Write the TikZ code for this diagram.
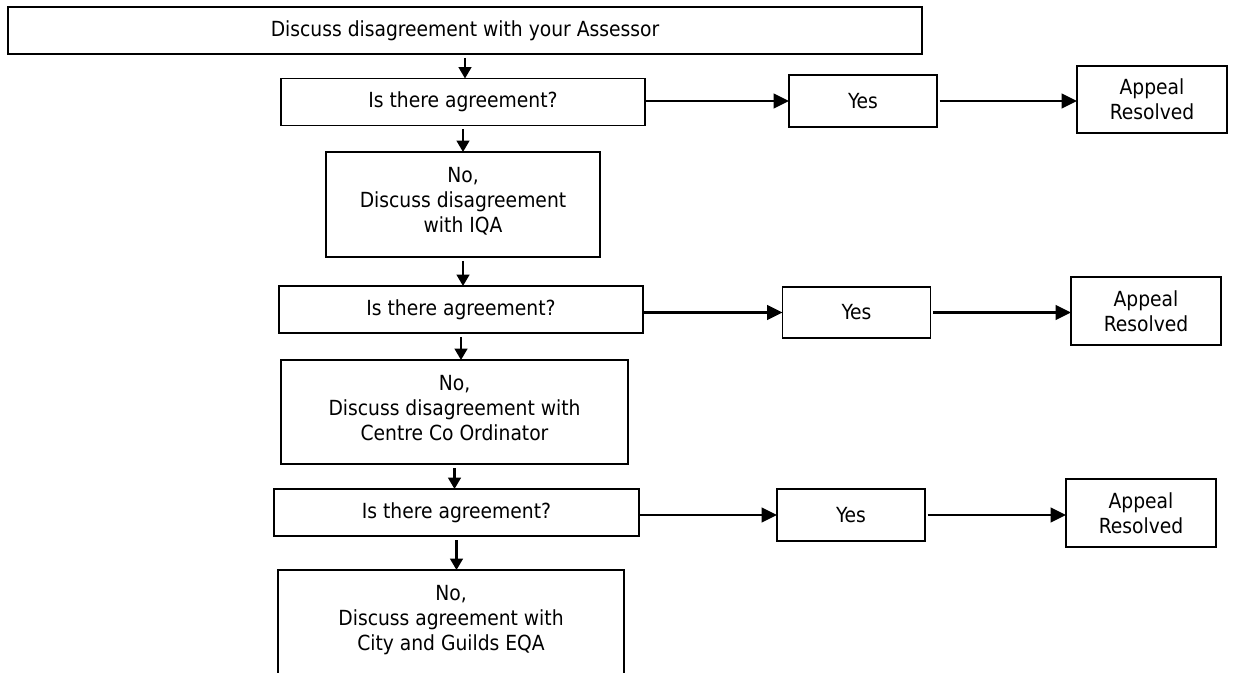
\documentclass[tikz,border=0pt]{standalone}
\usepackage{fontspec}
\setmainfont{DejaVu Sans Condensed}
\usetikzlibrary{arrows.meta, positioning}
\tikzset{basic/.style={draw,line width=1.4pt,inner sep=0pt,outer sep=0pt,align=center,font=\fontsize{15.6}{18.75}\selectfont}}
\tikzset{question/.style={basic,minimum width=273pt,minimum height=35.25pt}}
\tikzset{stepbox/.style={basic,minimum height=78pt,text depth=6.5pt}}
\tikzset{answer/.style={basic,minimum width=111pt,minimum height=38.5pt}}
\tikzset{result/.style={basic,minimum width=112.5pt,minimum height=50.5pt}}
\tikzset{vflow/.style={draw,line width=1.6pt,shorten <=3pt,-{Triangle[length=8.5pt,width=9.5pt]}}}
\tikzset{hflow/.style={draw,line width=1.6pt,-{Triangle[length=11.5pt,width=11pt]}}}

\begin{document}
\begin{tikzpicture}[x=0.75pt,y=-0.75pt]
\useasboundingbox (0,0) rectangle (1234,673);

% Define main column
\node[basic,minimum width=685.5pt,minimum height=35.25pt] at (465,30.5) (ask) {Discuss disagreement with your Assessor};
\node[question] at (463,102) (q1) {Is there agreement?};
\node[stepbox,minimum width=205.5pt,minimum height=78.75pt] at (463,204.5) (iqa) {No,\\Discuss disagreement\\with IQA};
\node[question] at (461,309.5) (q2) {Is there agreement?};
\node[stepbox,minimum width=260.25pt] at (454.5,412) (centre) {No,\\Discuss disagreement with\\Centre Co Ordinator};
\node[question,minimum width=273.75pt] at (456.5,512.5) (q3) {Is there agreement?};
\node[stepbox,minimum width=259.5pt] at (451,622) (eqa) {No,\\Discuss agreement with\\City and Guilds EQA};

% Define yes branches
\node[answer] at (863,101) (yes1) {Yes};
\node[answer] at (856.5,312.5) (yes2) {Yes};
\node[answer] at (851,515) (yes3) {Yes};

\node[result] at (1152,99.5) (res1) {Appeal\\Resolved};
\node[result] at (1146,311) (res2) {Appeal\\Resolved};
\node[result] at (1141,513) (res3) {Appeal\\Resolved};

% Define paths
\path[vflow] (ask.south) -- (ask.south |- q1.north);
\path[vflow] (q1.south) -- (q1.south |- iqa.north);
\path[vflow] (iqa.south) -- (iqa.south |- q2.north);
\path[vflow] (q2.south) -- (q2.south |- centre.north);
\path[vflow] (centre.south) -- (centre.south |- q3.north);
\path[vflow] (q3.south) -- (q3.south |- eqa.north);

\path[hflow] (yes1.west -| q1.east) -- (yes1.west);
\path[hflow] (yes2.west -| q2.east) -- (yes2.west);
\path[hflow] (yes3.west -| q3.east) -- (yes3.west);

\path[hflow,shorten <=2pt] (yes1.east) -- (yes1.east -| res1.west);
\path[hflow,shorten <=2pt] (yes2.east) -- (yes2.east -| res2.west);
\path[hflow,shorten <=2pt] (yes3.east) -- (yes3.east -| res3.west);
\end{tikzpicture}
\end{document}
